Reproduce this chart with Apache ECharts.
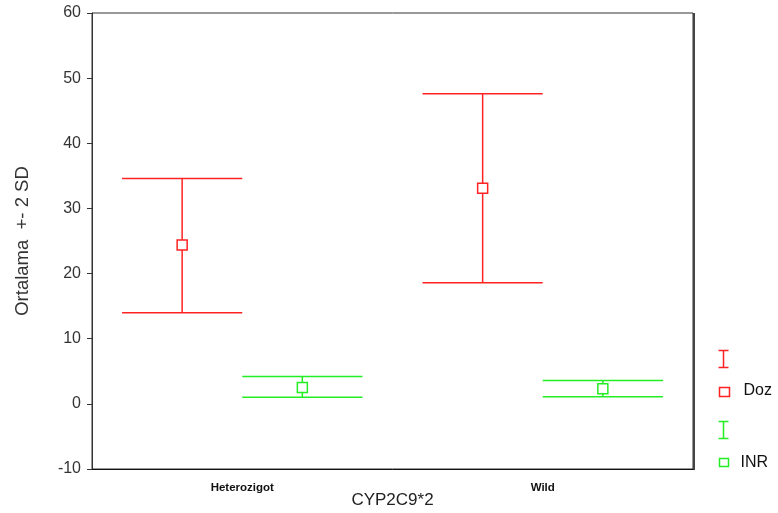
<!DOCTYPE html>
<html>
<head>
<meta charset="utf-8">
<style>
  html, body { margin: 0; padding: 0; background: #ffffff; }
  #chart { width: 778px; height: 513px; }
</style>
<script src="https://cdn.jsdelivr.net/npm/echarts@6/dist/echarts.min.js"></script>
</head>
<body>
<div id="chart"></div>
<script>
// Genotype groups on the x axis
const categories = ['Heterozigot', 'Wild'];

// Doz: mean, mean - 2 SD, mean + 2 SD
const dozMean = [24.4, 33.1];
const dozLow  = [14.0, 18.6];
const dozHigh = [34.6, 47.6];

// INR: mean, mean - 2 SD, mean + 2 SD
const inrMean = [2.5, 2.3];
const inrLow  = [1.0, 1.1];
const inrHigh = [4.2, 3.6];

const yTicks = [-10, 0, 10, 20, 30, 40, 50, 60];

const RED = '#ff2222';
const GREEN = '#22ee22';

// Error bar with caps and a hollow square at the mean; offset is a fraction of the band width
function errorBar(color, offsetFrac) {
  return function (params, api) {
    const idx = api.value(0);
    const band = api.size([1, 0])[0];
    const centre = api.coord([idx, api.value(1)]);
    const x = centre[0] + band * offsetFrac;
    const yHi = api.coord([idx, api.value(3)])[1];
    const yLo = api.coord([idx, api.value(2)])[1];
    const half = band * 0.2;
    const style = { stroke: color, lineWidth: 1.5, fill: null };
    return {
      type: 'group',
      children: [
        { type: 'line', shape: { x1: x, y1: yHi, x2: x, y2: yLo }, style: style },
        { type: 'line', shape: { x1: x - half, y1: yHi, x2: x + half, y2: yHi }, style: style },
        { type: 'line', shape: { x1: x - half, y1: yLo, x2: x + half, y2: yLo }, style: style },
        { type: 'rect', shape: { x: x - 5, y: centre[1] - 5, width: 10, height: 10 },
          style: { stroke: color, lineWidth: 1.5, fill: '#ffffff' } }
      ]
    };
  };
}

function rows(mean, low, high) {
  return categories.map((c, i) => [i, mean[i], low[i], high[i]]);
}

const chart = echarts.init(document.getElementById('chart'));
chart.setOption({
  animation: false,
  backgroundColor: '#ffffff',
  grid: { left: 92, right: 85, top: 13, bottom: 44, show: true, outerBoundsMode: 'none',
          containLabel: false,
          borderColor: '#333333', borderWidth: 1, backgroundColor: 'transparent' },
  xAxis: {
    type: 'category',
    data: categories,
    name: 'CYP2C9*2',
    nameLocation: 'middle',
    nameGap: 23,
    nameMoveOverlap: false,
    nameTextStyle: { fontFamily: 'Liberation Sans', fontSize: 17, color: '#222222' },
    axisLine: { onZero: false, lineStyle: { color: '#111111', width: 1 } },
    axisTick: { alignWithLabel: true, length: 3, lineStyle: { color: '#111111' } },
    axisLabel: { fontFamily: 'Liberation Sans', fontSize: 11.5, fontWeight: 'bold',
                 color: '#111111', margin: 13 },
    splitLine: { show: false }
  },
  yAxis: {
    type: 'value',
    min: yTicks[0],
    max: yTicks[yTicks.length - 1],
    interval: 10,
    name: 'Ortalama  +- 2 SD',
    nameLocation: 'middle',
    nameGap: 60,
    nameTextStyle: { fontFamily: 'Liberation Sans', fontSize: 18.5, color: '#333333' },
    axisLine: { show: true, lineStyle: { color: '#333333', width: 1 } },
    axisTick: { show: true, length: 5, lineStyle: { color: '#333333' } },
    axisLabel: { fontFamily: 'Liberation Sans', fontSize: 16, color: '#333333', margin: 11 },
    splitLine: { show: false }
  },
  series: [
    { name: 'Doz', type: 'custom', renderItem: errorBar(RED, -0.2),
      encode: { x: 0, y: [1, 2, 3] }, data: rows(dozMean, dozLow, dozHigh), z: 3 },
    { name: 'INR', type: 'custom', renderItem: errorBar(GREEN, 0.2),
      encode: { x: 0, y: [1, 2, 3] }, data: rows(inrMean, inrLow, inrHigh), z: 3 }
  ],
  graphic: [
    // heavier right frame edge
    { type: 'line', shape: { x1: 694, y1: 13, x2: 694, y2: 470 },
      style: { stroke: '#444444', lineWidth: 2 } },
    // legend
    { type: 'group', left: 716, top: 348, children: [
      { type: 'line', shape: { x1: 5, y1: 0, x2: 5, y2: 17 }, style: { stroke: RED, lineWidth: 1.5 } },
      { type: 'line', shape: { x1: 0, y1: 0, x2: 10, y2: 0 }, style: { stroke: RED, lineWidth: 1.5 } },
      { type: 'line', shape: { x1: 0, y1: 17, x2: 10, y2: 17 }, style: { stroke: RED, lineWidth: 1.5 } },
      { type: 'rect', shape: { x: 1, y: 37, width: 10, height: 9 }, style: { stroke: RED, lineWidth: 1.5, fill: null } },
      { type: 'text', x: 25, y: 40, style: { text: 'Doz', fontFamily: 'Liberation Sans', fontSize: 16,
        fill: '#111111', verticalAlign: 'middle' } },
      { type: 'line', shape: { x1: 5, y1: 71, x2: 5, y2: 88 }, style: { stroke: GREEN, lineWidth: 1.5 } },
      { type: 'line', shape: { x1: 0, y1: 71, x2: 10, y2: 71 }, style: { stroke: GREEN, lineWidth: 1.5 } },
      { type: 'line', shape: { x1: 0, y1: 88, x2: 10, y2: 88 }, style: { stroke: GREEN, lineWidth: 1.5 } },
      { type: 'rect', shape: { x: 1, y: 108, width: 9, height: 8 }, style: { stroke: GREEN, lineWidth: 1.5, fill: null } },
      { type: 'text', x: 22, y: 112, style: { text: 'INR', fontFamily: 'Liberation Sans', fontSize: 16,
        fill: '#111111', verticalAlign: 'middle' } }
    ] }
  ]
});
</script>
</body>
</html>
